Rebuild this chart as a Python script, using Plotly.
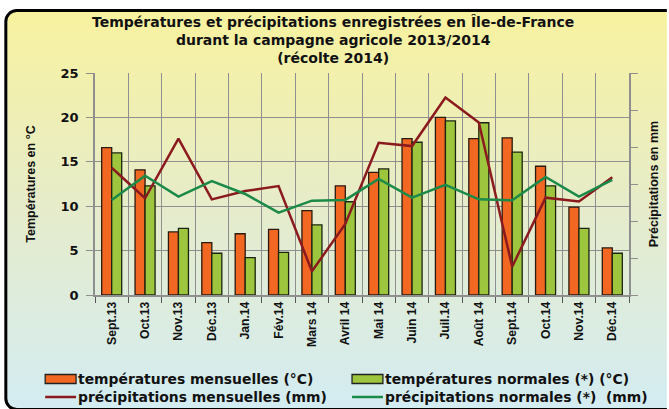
import base64
import plotly.graph_objects as go

months = ["Sept.13", "Oct.13", "Nov.13", "Déc.13", "Jan.14", "Fév.14", "Mars 14", "Avril 14",
          "Mai 14", "Juin 14", "Juil.14", "Août 14", "Sept.14", "Oct.14", "Nov.14", "Déc.14"]
temp_mens = [16.6, 14.1, 7.1, 5.9, 6.9, 7.4, 9.5, 12.3, 13.8, 17.6, 20.0, 17.6, 17.7, 14.5, 9.9, 5.3]
temp_norm = [16.0, 12.3, 7.5, 4.7, 4.2, 4.8, 7.9, 10.5, 14.2, 17.2, 19.6, 19.4, 16.1, 12.3, 7.5, 4.7]
precip_mens = [68.8, 52.3, 84.5, 51.7, 56.2, 58.9, 12.8, 38.4, 82.3, 80.5, 106.8, 93.2, 15.3, 52.6, 50.5, 63.6]
precip_norm = [51.4, 64.5, 53.2, 61.6, 54.6, 44.5, 51.0, 51.4, 62.7, 52.6, 59.6, 51.7, 51.2, 63.8, 53.2, 62.2]

W, H = 669, 409
ML, MR, MT, MB = 95, 38, 73, 114
PW, PH = W - ML - MR, H - MT - MB

ORANGE = "#F26722"
GREEN = "#9DC63E"
DRED = "#8B1A1E"
DGREEN = "#1B8A48"
FONT = "Liberation Sans, Arial, sans-serif"
WFONT = "DejaVu Sans, Verdana, sans-serif"

svg = f"""<svg xmlns='http://www.w3.org/2000/svg' width='{W}' height='{H}' viewBox='0 0 {W} {H}'>
<defs><linearGradient id='g' x1='0' y1='0' x2='0' y2='1'>
<stop offset='0' stop-color='#F8F29E'/>
<stop offset='0.5' stop-color='#E6ECCB'/>
<stop offset='1' stop-color='#D3ECF2'/>
</linearGradient></defs>
<rect x='5.5' y='10.5' width='700' height='{H - 10}' rx='11' ry='11' fill='url(#g)' stroke='#000' stroke-width='3'/>
</svg>"""
src = "data:image/svg+xml;base64," + base64.b64encode(svg.encode("utf-8")).decode("ascii")

fig = go.Figure()
fig.add_trace(go.Bar(x=months, y=temp_mens, name="températures mensuelles (°C)",
                     marker=dict(color=ORANGE, line=dict(color="#2a1a10", width=1.3)),
                     showlegend=False))
fig.add_trace(go.Bar(x=months, y=temp_norm, name="températures normales (*) (°C)",
                     marker=dict(color=GREEN, line=dict(color="#1c2410", width=1.3)),
                     showlegend=False))
fig.add_trace(go.Scatter(x=months, y=precip_mens, name="précipitations mensuelles (mm)",
                         mode="lines", line=dict(color=DRED, width=2.5), yaxis="y2",
                         showlegend=False))
fig.add_trace(go.Scatter(x=months, y=precip_norm, name="précipitations normales (*)  (mm)",
                         mode="lines", line=dict(color=DGREEN, width=2.5), yaxis="y2",
                         showlegend=False))

def px_x(x):
    return (x - ML) / PW

def px_y(y):
    return 1 - (y - MT) / PH

shapes = []
annotations = []
legend_items = [
    ("rect", ORANGE, "températures mensuelles (°C)", 45, 379),
    ("rect", GREEN, "températures normales (*) (°C)", 353, 379),
    ("line", DRED, "précipitations mensuelles (mm)", 45, 397),
    ("line", DGREEN, "précipitations normales (*)  (mm)", 353, 397),
]
for kind, col, label, x0, yc in legend_items:
    if kind == "rect":
        shapes.append(dict(type="rect", xref="paper", yref="paper",
                           x0=px_x(x0), x1=px_x(x0 + 31), y0=px_y(yc - 4.5), y1=px_y(yc + 4.5),
                           fillcolor=col, line=dict(color="#222", width=1.3)))
    else:
        shapes.append(dict(type="line", xref="paper", yref="paper",
                           x0=px_x(x0), x1=px_x(x0 + 31), y0=px_y(yc), y1=px_y(yc),
                           line=dict(color=col, width=2.5)))
    annotations.append(dict(text=f"<b>{label}</b>", xref="paper", yref="paper",
                            x=px_x(x0 + 31), y=px_y(yc), xanchor="left", yanchor="middle",
                            showarrow=False, font=dict(family=WFONT, size=13.9, color="#111")))

annotations.append(dict(
    text="<b>Températures et précipitations enregistrées en Île-de-France<br>durant la campagne agricole 2013/2014<br>(récolte 2014)</b>",
    xref="paper", yref="paper", x=px_x(334), y=px_y(12), xanchor="center", yanchor="top",
    showarrow=False, align="center", font=dict(family=WFONT, size=14, color="#111")))

fig.update_layout(
    width=W, height=H,
    margin=dict(l=ML, r=MR, t=MT, b=MB, pad=0),
    paper_bgcolor="white",
    plot_bgcolor="rgba(0,0,0,0)",
    barmode="group", bargap=0.4, bargroupgap=0.0,
    showlegend=False,
    font=dict(family=FONT, color="#111"),
    images=[dict(source=src, xref="paper", yref="paper",
                 x=-ML / PW, y=1 + MT / PH, sizex=W / PW, sizey=H / PH,
                 xanchor="left", yanchor="top", sizing="stretch", layer="below")],
    xaxis=dict(
        type="category", tickson="boundaries", ticks="outside", ticklen=6,
        tickcolor="#555", tickwidth=1.3,
        showgrid=True, gridcolor="#8f8f8f", gridwidth=1.3,
        showline=True, linecolor="#8f8f8f", linewidth=1.5,
        tickangle=-90, tickfont=dict(family=FONT, size=12.2, color="#111"),
        tickprefix="<b>", ticksuffix="</b>",
        range=[-0.5, 15.5],
    ),
    yaxis=dict(
        range=[0, 25], dtick=5, ticks="outside", ticklen=7, tickcolor="#8f8f8f", tickwidth=1.3,
        showgrid=True, gridcolor="#8f8f8f", gridwidth=1.3,
        showline=True, linecolor="#8f8f8f", linewidth=1.5, zeroline=False,
        tickfont=dict(family=WFONT, size=13, color="#111"),
        tickprefix="<b>", ticksuffix="</b>", ticklabelstandoff=5,
        title=dict(text="<b>Températures en °C</b>", font=dict(family=FONT, size=12.5, color="#111"),
                   standoff=22),
    ),
    yaxis2=dict(
        overlaying="y", side="right", range=[0, 120], dtick=20,
        ticks="outside", ticklen=7, tickcolor="#8f8f8f", tickwidth=1.3,
        showticklabels=False, showgrid=False, zeroline=False,
        showline=True, linecolor="#8f8f8f", linewidth=1.5,
        title=dict(text="<b>Précipitations en mm</b>", font=dict(family=FONT, size=12.5, color="#111"),
                   standoff=12),
    ),
    shapes=shapes,
    annotations=annotations,
)

fig.write_html("out.html", config={"displayModeBar": False},
               post_script="document.body.style.margin='0';document.body.style.overflow='hidden';")
